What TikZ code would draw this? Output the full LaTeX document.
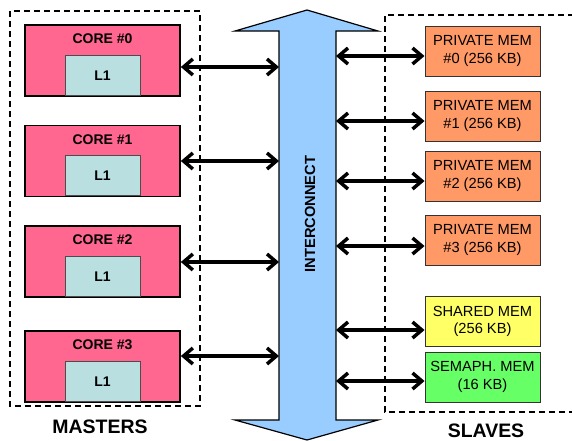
\documentclass[tikz,border=0pt]{standalone}
\usepackage{fontspec}
\setmainfont{Liberation Sans}
\usetikzlibrary{arrows.meta}
\definecolor{corepink}{HTML}{FF6690}
\definecolor{lonecol}{HTML}{BADFE0}
\definecolor{pmorange}{HTML}{FF9966}
\definecolor{shyellow}{HTML}{FFFF66}
\definecolor{smgreen}{HTML}{66FF66}
\definecolor{icblue}{HTML}{99CCFF}
\tikzset{
  corebox/.style={draw=black, line width=1.3pt, fill=corepink, rectangle, inner sep=0pt, minimum width=155*0.75pt, minimum height=71*0.75pt},
  lonebox/.style={draw=black!70, line width=0.7pt, fill=lonecol, rectangle, inner sep=0pt, minimum width=75*0.75pt, minimum height=40*0.75pt, font=\fontsize{10.5pt}{12pt}\selectfont\bfseries},
  corelabel/.style={font=\fontsize{10.5pt}{12pt}\selectfont\bfseries, inner sep=0pt},
  memlabel/.style={rectangle, draw=black!80, line width=0.7pt, inner sep=0pt, minimum width=115*0.75pt, minimum height=50*0.75pt, align=center, font=\fontsize{11pt}{13.2pt}\selectfont},
  groupbox/.style={draw=black, line width=1.1pt, dash pattern=on 4.5pt off 3pt},
  biarrow/.style={line width=2.6pt, {Straight Barb[length=7pt,width=12pt]}-{Straight Barb[length=7pt,width=12pt]}},
  biglabel/.style={font=\fontsize{14.6pt}{16pt}\selectfont\bfseries, inner sep=0pt}
}
\begin{document}
\begin{tikzpicture}[x=0.75pt,y=-0.75pt]
\useasboundingbox (0,0) rectangle (572,440);
% masters group
\draw[groupbox] (10,11) rectangle (200,406);
% slaves group (right side open)
\draw[groupbox] (574,15) -- (385,15) -- (385,412) -- (574,412);
% interconnect arrow
\draw[fill=icblue, draw=black, line width=0.9pt]
  (307,10) -- (378,31) -- (336,31) -- (336,420) -- (378,420) -- (307,440)
  -- (235,420) -- (279,420) -- (279,31) -- (235,31) -- cycle;
\coordinate (icL) at (279,225);
\coordinate (icR) at (336,225);
\node[rotate=90, font=\fontsize{11pt}{13pt}\selectfont\bfseries, inner sep=0pt] (ictext) at (310,214) {INTERCONNECT};
% cores
\foreach \i/\t/\b in {0/25/96, 1/126/196, 2/226/297, 3/331/402}{
  \node[corebox] (core\i) at (102.5,{(\t+\b)/2}) {};
  \node[lonebox, anchor=south] (lone\i) at (102.5,\b) {L1};
  \node[corelabel] (clab\i) at (102.5,\t+14) {CORE \#\i};
}
% master arrows
\foreach \i/\y in {0/67, 1/161, 2/262, 3/356}{
  \coordinate (ma\i) at (180,\y);
  \draw[biarrow] (core\i.east |- ma\i) -- (icL |- ma\i);
}
% slaves
\node[memlabel, fill=pmorange] (pm0) at (482.5,51) {PRIVATE MEM\\\#0 (256 KB)};
\node[memlabel, fill=pmorange] (pm1) at (482.5,116) {PRIVATE MEM\\\#1 (256 KB)};
\node[memlabel, fill=pmorange] (pm2) at (482.5,176) {PRIVATE MEM\\\#2 (256 KB)};
\node[memlabel, fill=pmorange] (pm3) at (482.5,240) {PRIVATE MEM\\\#3 (256 KB)};
\node[memlabel, fill=shyellow] (shm) at (482.5,321.5) {SHARED MEM\\(256 KB)};
\node[memlabel, fill=smgreen] (sem) at (482.5,377) {SEMAPH. MEM\\(16 KB)};
% slave arrows
\foreach \n/\y in {pm0/56, pm1/121, pm2/181, pm3/246, shm/330, sem/381}{
  \coordinate (sa\n) at (425,\y);
  \draw[biarrow] (icR |- sa\n) -- (\n.west |- sa\n);
}
% group labels
\node[biglabel] (masters) at (100,427) {MASTERS};
\node[biglabel] (slaves) at (486,430.5) {SLAVES};
\end{tikzpicture}
\end{document}
